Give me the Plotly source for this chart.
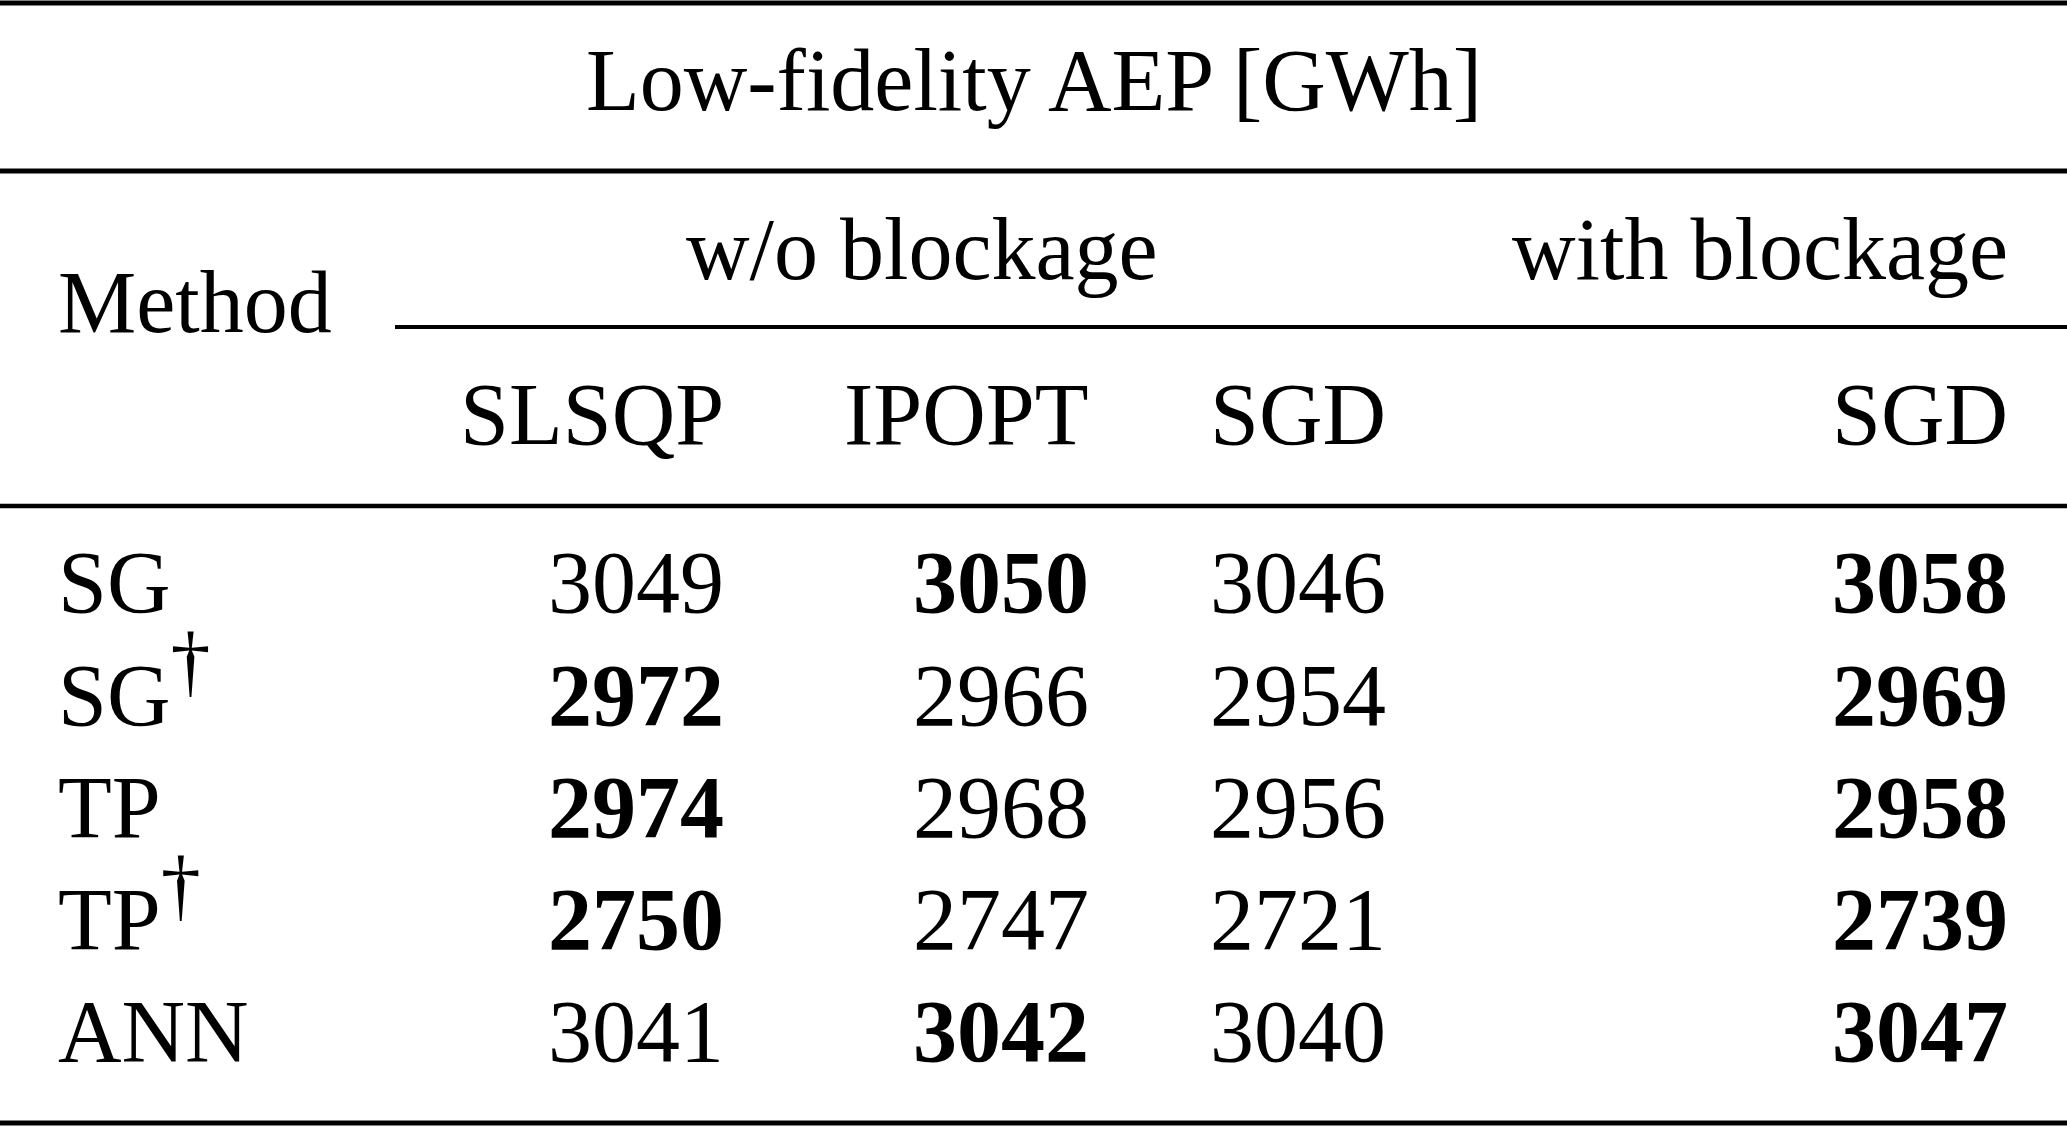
import plotly.graph_objects as go

# ---- data ----
title_text = "Low-fidelity AEP [GWh]"
group_labels = ["w/o blockage", "with blockage"]
column_labels = ["SLSQP", "IPOPT", "SGD", "SGD"]
method_names = ["SG", "SG", "TP", "TP", "ANN"]
method_dagger = [False, True, False, True, False]
slsqp = [3049, 2972, 2974, 2750, 3041]
ipopt = [3050, 2966, 2968, 2747, 3042]
sgd = [3046, 2954, 2956, 2721, 3040]
sgd_blockage = [3058, 2969, 2958, 2739, 3047]

# ---- layout constants (pixels) ----
W, H = 2067, 1127
FS = 88
FONT = "Liberation Serif"
DESC = 0.216 * FS + 1

col_right = [726, 1091, 1388, 2010]
method_left = 56
row_base = [613, 726, 838, 950, 1062]
title_base = 111
group_base = 280
method_base = 333
col_base = 445

fig = go.Figure()
fig.add_trace(go.Scatter(x=[0, W], y=[0, H], mode="markers",
                         marker=dict(opacity=0), hoverinfo="skip", showlegend=False))

anns = []


def add_text(txt, x, base, xanchor):
    anns.append(dict(text=txt, x=x, y=base + DESC, xref="x", yref="y",
                     xanchor=xanchor, yanchor="bottom", showarrow=False,
                     font=dict(family=FONT, size=FS, color="black")))


add_text(title_text, W / 2, title_base, "center")
add_text("Method", method_left, method_base, "left")
add_text(group_labels[0], 922, group_base, "center")
add_text(group_labels[1], col_right[3], group_base, "right")
for lbl, xr in zip(column_labels, col_right):
    add_text(lbl, xr, col_base, "right")

wo_cols = [slsqp, ipopt, sgd]
for i, m in enumerate(method_names):
    label = m + ("<sup><span style='font-size:80px'>†</span></sup>" if method_dagger[i] else "")
    add_text(label, method_left, row_base[i], "left")
    best = max(c[i] for c in wo_cols)
    for j, c in enumerate(wo_cols):
        v = c[i]
        s = f"<b>{v}</b>" if v == best else str(v)
        add_text(s, col_right[j], row_base[i], "right")
    add_text(f"<b>{sgd_blockage[i]}</b>", col_right[3], row_base[i], "right")

shapes = []


def hline(y, x0, x1, w):
    shapes.append(dict(type="line", xref="x", yref="y", x0=x0, x1=x1, y0=y, y1=y,
                       line=dict(color="black", width=w)))


hline(3, 0, W, 5)
hline(171, 0, W, 5)
hline(327, 395, W, 4)
hline(506, 0, W, 4.5)
hline(1123, 0, W, 5)

fig.update_layout(
    width=W, height=H,
    margin=dict(l=0, r=0, t=0, b=0),
    paper_bgcolor="white", plot_bgcolor="white",
    xaxis=dict(range=[0, W], visible=False, fixedrange=True),
    yaxis=dict(range=[H, 0], visible=False, fixedrange=True),
    annotations=anns, shapes=shapes, showlegend=False,
)

fig.write_html(
    "out.html",
    config={"displayModeBar": False},
    post_script="document.body.style.margin='0';document.body.style.overflow='hidden';",
)
